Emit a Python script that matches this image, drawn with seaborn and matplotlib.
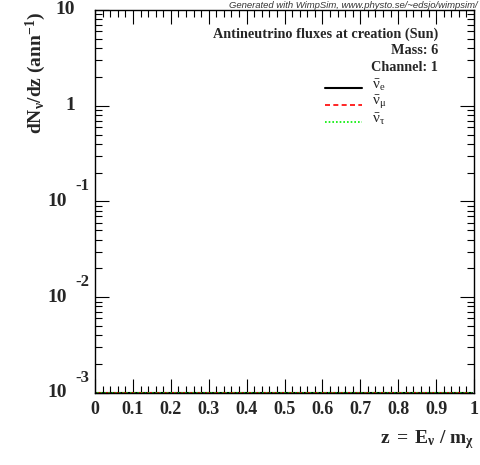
import numpy as np
import pandas as pd
import matplotlib
matplotlib.use("Agg")
import matplotlib.pyplot as plt
import matplotlib.ticker as mticker
import matplotlib.transforms as mtransforms
import seaborn as sns

# flux data (all zero for this mass/channel, drawn at the plot floor)
z_bins = np.arange(0.005, 1.0, 0.01)
flux_nue_bar = np.zeros(len(z_bins))
flux_numu_bar = np.zeros(len(z_bins))
flux_nutau_bar = np.zeros(len(z_bins))

y_floor = 1e-3
y_top = 10
x_ticks = [0, 0.1, 0.2, 0.3, 0.4, 0.5, 0.6, 0.7, 0.8, 0.9, 1]
x_tick_labels = ["0", "0.1", "0.2", "0.3", "0.4", "0.5", "0.6", "0.7", "0.8", "0.9", "1"]
y_ticks = [1e-3, 1e-2, 1e-1, 1, 10]
y_tick_base = ["10", "10", "10", "1", "10"]
y_tick_exp = ["-3", "-2", "-1", "", ""]

sns.set_style("ticks")
plt.rcParams["font.family"] = ["Liberation Serif", "DejaVu Serif"]
plt.rcParams["mathtext.fontset"] = "custom"
plt.rcParams["mathtext.rm"] = "Liberation Serif"
plt.rcParams["mathtext.it"] = "Liberation Serif:italic"
plt.rcParams["mathtext.bf"] = "Liberation Serif:bold"

df = pd.DataFrame({
    "z": np.concatenate([z_bins] * 3),
    "flux": np.concatenate([flux_nue_bar, flux_numu_bar, flux_nutau_bar]),
    "flavour": ["e"] * len(z_bins) + ["mu"] * len(z_bins) + ["tau"] * len(z_bins),
})
df["shown"] = df["flux"].clip(lower=y_floor)

fig = plt.figure(figsize=(4.8, 4.65), dpi=100)
ax = fig.add_axes([0.198, 0.155, 0.7895, 0.8235])

styles = {"e": ("black", "-", 1.5), "mu": ("red", (0, (3, 2)), 1.2), "tau": ("#00ee00", (0, (1, 1.2)), 1.2)}
for fl, (col, ls, lw) in styles.items():
    sub = df[df["flavour"] == fl]
    sns.lineplot(data=sub, x="z", y="shown", ax=ax, color=col, linestyle=ls, linewidth=lw,
                 clip_on=False, legend=False)

ax.set_yscale("log")
ax.set_xlim(0, 1)
ax.set_ylim(y_floor, y_top)
ax.set_xlabel("")
ax.set_ylabel("")

ax.set_xticks(x_ticks)
ax.set_xticklabels(x_tick_labels, fontsize=13, fontweight="bold")
ax.xaxis.set_minor_locator(mticker.MultipleLocator(0.02))
ax.set_yticks(y_ticks)
ax.set_yticklabels([])
ax.yaxis.set_minor_locator(mticker.LogLocator(base=10, subs=np.arange(2, 10)))
ax.yaxis.set_minor_formatter(mticker.NullFormatter())

ax.tick_params(which="both", direction="in", top=True, right=True, color="black", width=0.8)
ax.tick_params(which="major", length=10, pad=6)
ax.tick_params(which="minor", length=5)
for sp in ax.spines.values():
    sp.set_linewidth(1.0)
    sp.set_color("black")

# ROOT-style y labels: base number and raised exponent drawn apart
ytrans = ax.get_yaxis_transform()
exp_trans = mtransforms.offset_copy(ytrans, fig=fig, x=0, y=15, units="dots")
for yv, base, ex in zip(y_ticks, y_tick_base, y_tick_exp):
    if ex:
        ax.text(-0.073, yv, base, transform=ytrans, ha="right", va="center", fontsize=14,
                fontweight="bold", clip_on=False)
        ax.text(-0.053, yv, ex, transform=exp_trans, ha="left", va="center", fontsize=12,
                fontweight="bold", clip_on=False)
    else:
        ax.text(-0.052, yv, base, transform=ytrans, ha="right", va="center", fontsize=14,
                fontweight="bold", clip_on=False)

fig.text(0.075, 0.975, r"$\mathbf{dN_{\nu}/dz\ (ann^{-1})}$", rotation=90, ha="center", va="top", fontsize=14)
fig.text(0.987, 0.055, r"$\mathbf{z\ =\ E_{\nu}\ /\ m_{\chi}}$", ha="right", va="center", fontsize=14)
fig.text(0.995, 0.997, "Generated with WimpSim, www.physto.se/~edsjo/wimpsim/", ha="right", va="top",
         fontsize=6.8, style="italic", family=["Liberation Sans", "DejaVu Sans"], color="#333333")

ax.text(0.905, 0.937, "Antineutrino fluxes at creation (Sun)", transform=ax.transAxes, ha="right", va="center",
        fontsize=10.3, fontweight="bold")
ax.text(0.905, 0.893, "Mass: 6", transform=ax.transAxes, ha="right", va="center", fontsize=10.3, fontweight="bold")
ax.text(0.905, 0.851, "Channel: 1", transform=ax.transAxes, ha="right", va="center", fontsize=10.3, fontweight="bold")

leg_labels = [r"$\bar{\mathrm{\nu}}_{\mathrm{e}}$", r"$\bar{\mathrm{\nu}}_{\mathrm{\mu}}$",
              r"$\bar{\mathrm{\nu}}_{\mathrm{\tau}}$"]
leg_y = [0.796, 0.752, 0.708]
for (fl, (col, ls, lw)), lab, yy in zip(styles.items(), leg_labels, leg_y):
    ax.plot([0.607, 0.704], [yy, yy], transform=ax.transAxes, color=col, linestyle=ls, linewidth=lw)
    ax.text(0.731, yy + 0.008, lab, transform=ax.transAxes, ha="left", va="center", fontsize=11)

fig.savefig("out.png", dpi=100)
